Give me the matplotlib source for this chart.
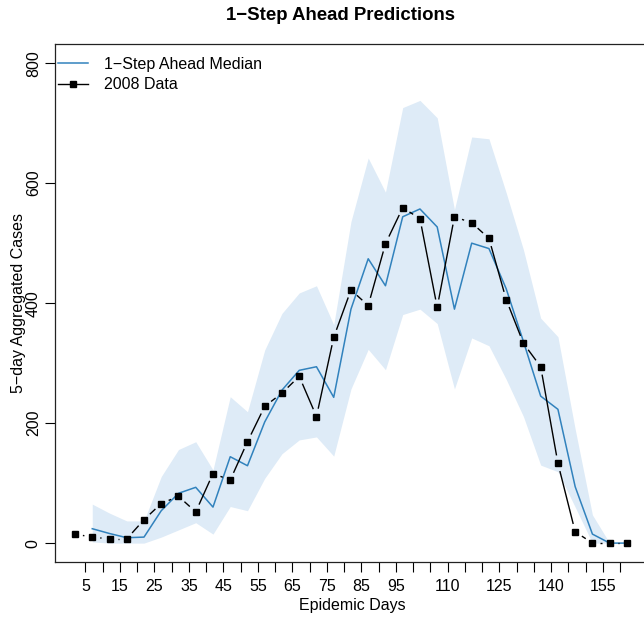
import numpy as np
import matplotlib
matplotlib.use("Agg")
import matplotlib.pyplot as plt
from matplotlib.collections import LineCollection
from matplotlib.lines import Line2D

plt.rcParams['font.family'] = ['Liberation Sans', 'DejaVu Sans']

# epidemic day of each 5-day block (one per observation)
days = np.arange(2, 163, 5)

# 2008 observed 5-day aggregated cases
cases = [15, 10, 7, 7, 39, 66, 78, 52, 116, 105, 169, 228, 250, 278, 211, 343,
         422, 396, 499, 559, 541, 393, 544, 534, 508, 406, 333, 294, 133, 19,
         0, 0, 0]

# 1-step ahead predictions, from the second block on
pred_median = [24, 16, 9, 10, 54, 83, 93, 60, 144, 129, 202, 255, 288, 294, 243,
               390, 474, 429, 544, 557, 527, 390, 500, 491, 424, 336, 245, 223,
               94, 15, 0, 0]
pred_lower = [2, 0, 0, 0, 10, 22, 34, 15, 61, 54, 108, 149, 172, 177, 145, 257,
              323, 289, 381, 390, 366, 257, 342, 329, 273, 211, 130, 119, 60, 0,
              0, 0]
pred_upper = [65, 50, 37, 37, 111, 156, 169, 122, 244, 219, 322, 383, 417, 429,
              364, 536, 642, 585, 726, 738, 709, 556, 677, 674, 584, 489, 375,
              344, 190, 47, 0, 0]

tick_days = np.arange(5, 161, 5)
shown_labels = [5, 15, 25, 35, 45, 55, 65, 75, 85, 95, 110, 125, 140, 155]

fig = plt.figure(figsize=(6.44, 6.17), dpi=100)
ax = fig.add_axes([55/644, 1 - 562.3/617, 594/644, (562.3 - 44)/617])
ax.set_xlim(-3.8, 168.4)
ax.set_ylim(-32, 832)

pdays = days[1:]
ax.fill_between(pdays, pred_lower, pred_upper, color='#deebf7', lw=0, zorder=1)
ax.plot(pdays, pred_median, color='#3182bd', lw=1.1, zorder=2)

# R type="b": segments broken around each point
fig.canvas.draw()
pts = ax.transData.transform(np.column_stack([days, cases]))
gap = 8.0
segs = []
for p0, p1 in zip(pts[:-1], pts[1:]):
    d = p1 - p0
    L = np.hypot(*d)
    if L > 2 * gap:
        u = d / L
        a = ax.transData.inverted().transform(p0 + u * gap)
        b = ax.transData.inverted().transform(p1 - u * gap)
        segs.append([a, b])
ax.add_collection(LineCollection(segs, colors='black', linewidths=1.0, zorder=3))
ax.plot(days, cases, ls='none', marker='s', ms=5, mfc='black', mec='black',
        zorder=4)

ax.set_xticks(tick_days)
ax.set_xticklabels([str(d) if d in shown_labels else '' for d in tick_days])
ax.set_yticks([0, 200, 400, 600, 800])
ax.set_yticklabels(['0', '200', '400', '600', '800'], rotation=90, va='center')
ax.tick_params(axis='both', length=7.2, width=0.8, labelsize=11.5, color='black')
ax.tick_params(axis='x', pad=4.5)
ax.tick_params(axis='y', pad=3)
for s in ax.spines.values():
    s.set_linewidth(0.9)
    s.set_color('#222222')

ax.set_xlabel('Epidemic Days', fontsize=11.5, labelpad=3)
ax.set_ylabel('5\u2212day Aggregated Cases', fontsize=11.5)
ax.yaxis.set_label_coords((26 - 55)/594, 0.5)
fig.text(340/644, 1 - 16/617, '1\u2212Step Ahead Predictions', fontsize=13.4,
         fontweight='bold', ha='center', va='center')

handles = [Line2D([], [], color='#3182bd', lw=1.1),
           Line2D([], [], color='black', lw=1.0, marker='s', ms=5)]
ax.legend(handles, ['1\u2212Step Ahead Median', '2008 Data'], loc='upper left',
          bbox_to_anchor=(58/644, 1 - 57/617), bbox_transform=fig.transFigure,
          frameon=False, fontsize=11.5, handlelength=1.9, handletextpad=0.95,
          labelspacing=0.33, borderpad=0, borderaxespad=0, numpoints=1)

fig.savefig('out.png', dpi=100)
